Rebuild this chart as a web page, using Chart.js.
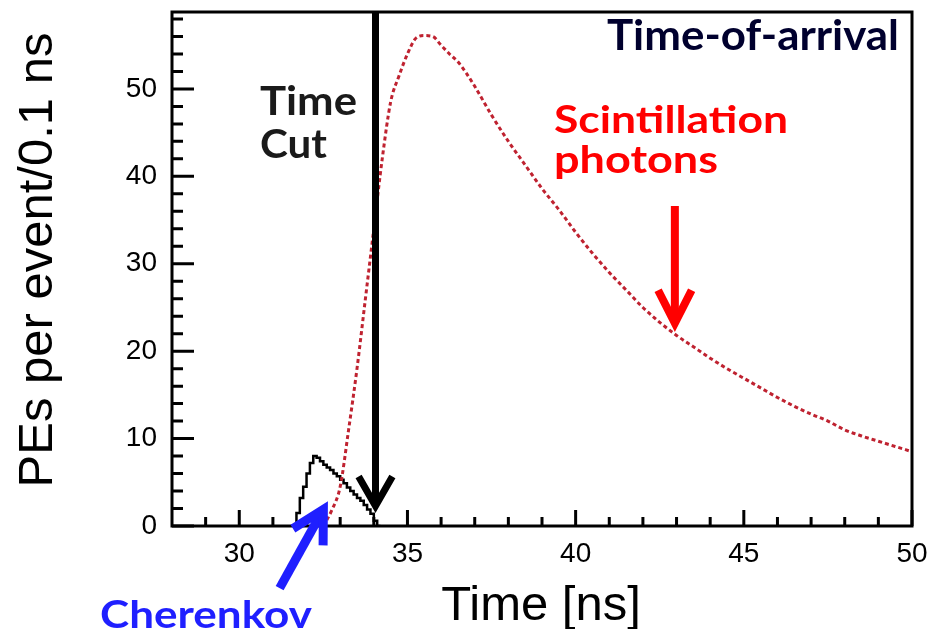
<!DOCTYPE html>
<html>
<head>
<meta charset="utf-8">
<script src="https://cdn.jsdelivr.net/npm/chart.js@4.4.1/dist/chart.umd.min.js"></script>
<style>
  html, body { margin: 0; padding: 0; background: #fff; }
  #wrap { width: 929px; height: 629px; position: relative; }
</style>
</head>
<body>
<div id="wrap"><canvas id="arrivalChart" width="929" height="629"></canvas></div>
<script>
// Scintillation photons (red dotted curve)
var scintTime = [32.5, 32.75, 33.0, 33.25, 33.5, 33.75, 34.0, 34.25, 34.5, 34.75,
                 35.0, 35.25, 35.5, 35.75, 36.0, 36.25, 36.5, 36.75, 37.0, 37.5,
                 38.0, 38.5, 39.0, 39.5, 40.0, 40.5, 41.0, 41.5, 42.0, 42.5,
                 43.0, 43.5, 44.0, 44.5, 45.0, 45.5, 46.0, 46.5, 47.0, 47.5,
                 48.0, 48.5, 49.0, 49.5, 50.0];
var scintPEs = [0, 1.8, 4.5, 11, 18, 26, 34, 42, 48.5, 51.5,
                54, 55.8, 56.1, 56, 55, 54, 53.1, 51.8, 50.3, 47,
                44, 41.3, 38.6, 36.2, 33.6, 31.2, 29, 27, 25, 23.3,
                21.8, 20.5, 19.2, 18, 16.9, 15.8, 14.7, 13.7, 12.8, 12,
                11, 10.3, 9.7, 9.1, 8.5];

// Cherenkov photons (black histogram, 0.1 ns bins, lower edges)
var cherTime = [31.7, 31.8, 31.9, 32.0, 32.1, 32.2, 32.3, 32.4, 32.5, 32.6,
                32.7, 32.8, 32.9, 33.0, 33.1, 33.2, 33.3, 33.4, 33.5, 33.6,
                33.7, 33.8, 33.9, 34.0, 34.1, 34.2];
var cherPEs = [0, 1.5, 3.2, 4.5, 6.0, 7.2, 8.0, 7.8, 7.4, 7.0,
               6.7, 6.4, 6.0, 5.7, 5.3, 4.9, 4.4, 4.0, 3.6, 3.2,
               2.9, 2.4, 1.9, 1.4, 0.6, 0];

// axes
var xMajorTicks = [30, 35, 40, 45, 50];
var xMinorTicks = [29, 31, 32, 33, 34, 36, 37, 38, 39, 41, 42, 43, 44, 46, 47, 48, 49];
var yMajorTicks = [0, 10, 20, 30, 40, 50];
var yMinorTicks = [2, 4, 6, 8, 12, 14, 16, 18, 22, 24, 26, 28, 32, 34, 36, 38, 42, 44, 46, 48, 52, 54, 56, 58];
var timeCut = 34.05;

function toPoints(xs, ys) {
    return xs.map(function (x, i) { return { x: x, y: ys[i] }; });
}

// draws a thick line with an open (chevron) head
function drawArrow(ctx, x1, y1, x2, y2, headLen, headAngle, width, color) {
    var ang = Math.atan2(y2 - y1, x2 - x1);
    ctx.save();
    ctx.strokeStyle = color;
    ctx.lineWidth = width;
    ctx.lineCap = 'butt';
    ctx.lineJoin = 'miter';
    ctx.beginPath();
    ctx.moveTo(x1, y1);
    ctx.lineTo(x2 - Math.cos(ang) * 3, y2 - Math.sin(ang) * 3);
    ctx.stroke();
    ctx.beginPath();
    ctx.moveTo(x2 - headLen * Math.cos(ang - headAngle), y2 - headLen * Math.sin(ang - headAngle));
    ctx.lineTo(x2, y2);
    ctx.lineTo(x2 - headLen * Math.cos(ang + headAngle), y2 - headLen * Math.sin(ang + headAngle));
    ctx.stroke();
    ctx.restore();
}

// bold label, squeezed or stretched sideways to the width it has in the picture
function drawNote(ctx, text, x, y, size, width, color, align) {
    ctx.save();
    ctx.font = 'bold ' + size + 'px Lato, "Open Sans", sans-serif';
    ctx.fillStyle = color;
    ctx.textAlign = 'left';
    ctx.textBaseline = 'alphabetic';
    var k = width / ctx.measureText(text).width;
    var left = align === 'right' ? x - width : x;
    ctx.translate(left, y);
    ctx.scale(k, 1);
    ctx.fillText(text, 0, 0);
    ctx.restore();
}

var framePlugin = {
    id: 'frameAndNotes',
    afterDatasetsDraw: function (chart) {
        var ctx = chart.ctx;
        var a = chart.chartArea;
        var xs = chart.scales.x, ys = chart.scales.y;

        ctx.save();
        // frame
        ctx.strokeStyle = '#000';
        ctx.lineWidth = 3;
        ctx.strokeRect(a.left, a.top, a.right - a.left, a.bottom - a.top);

        // inward ticks
        ctx.beginPath();
        xMajorTicks.forEach(function (v) {
            var px = xs.getPixelForValue(v);
            ctx.moveTo(px, a.bottom); ctx.lineTo(px, a.bottom - 16);
        });
        xMinorTicks.forEach(function (v) {
            var px = xs.getPixelForValue(v);
            ctx.moveTo(px, a.bottom); ctx.lineTo(px, a.bottom - 9);
        });
        yMajorTicks.forEach(function (v) {
            var py = ys.getPixelForValue(v);
            ctx.moveTo(a.left, py); ctx.lineTo(a.left + 22, py);
        });
        yMinorTicks.forEach(function (v) {
            var py = ys.getPixelForValue(v);
            ctx.moveTo(a.left, py); ctx.lineTo(a.left + 11, py);
        });
        ctx.stroke();

        // axis titles
        ctx.fillStyle = '#000';
        ctx.font = '49px "Liberation Sans", Arial, sans-serif';
        ctx.textAlign = 'center';
        ctx.textBaseline = 'alphabetic';
        ctx.fillText('Time [ns]', 541, 620);

        ctx.save();
        ctx.translate(52, 260);
        ctx.rotate(-Math.PI / 2);
        ctx.font = '49px "Liberation Sans", Arial, sans-serif';
        ctx.fillText('PEs per event/0.1 ns', 0, 0);
        ctx.restore();

        // time cut arrow
        var cutX = xs.getPixelForValue(timeCut);
        drawArrow(ctx, cutX, a.top, cutX, ys.getPixelForValue(2.3), 34, 0.52, 7, '#000');

        // scintillation arrow
        drawArrow(ctx, xs.getPixelForValue(42.95), ys.getPixelForValue(36.6),
                  xs.getPixelForValue(42.95), ys.getPixelForValue(23.2), 37, 0.47, 8, '#ff0000');

        // cherenkov arrow
        drawArrow(ctx, xs.getPixelForValue(31.2), ys.getPixelForValue(-7.1),
                  xs.getPixelForValue(32.5), ys.getPixelForValue(1.9), 36, 0.5, 9, '#1f1fff');

        // labels
        drawNote(ctx, 'Time', 260, 115, 40, 97, '#1a1a1a');
        drawNote(ctx, 'Cut', 260, 158, 40, 67, '#1a1a1a');
        drawNote(ctx, 'Scintillation', 554, 133, 38, 234, '#ff0000');
        drawNote(ctx, 'photons', 554, 173, 38, 164, '#ff0000');
        drawNote(ctx, 'Cherenkov', 100, 628, 38, 212, '#1f1fff');
        drawNote(ctx, 'Time-of-arrival', 899, 50, 42, 292, '#00002e', 'right');
        ctx.restore();
    }
};

var ctx = document.getElementById('arrivalChart').getContext('2d');
new Chart(ctx, {
    type: 'line',
    data: {
        datasets: [{
            label: 'Scintillation photons',
            data: toPoints(scintTime, scintPEs),
            borderColor: '#bf2230',
            borderWidth: 3,
            borderDash: [4, 3],
            pointRadius: 0,
            fill: false,
            cubicInterpolationMode: 'monotone'
        }, {
            label: 'Cherenkov photons',
            data: toPoints(cherTime, cherPEs),
            borderColor: '#000',
            borderWidth: 2.5,
            pointRadius: 0,
            fill: false,
            stepped: 'after'
        }]
    },
    options: {
        responsive: false,
        animation: false,
        layout: { padding: { left: 0, top: 12, right: 17, bottom: 0 } },
        plugins: {
            legend: { display: false },
            tooltip: { enabled: false }
        },
        scales: {
            x: {
                type: 'linear',
                min: 28,
                max: 50,
                grid: { display: false, drawTicks: false },
                border: { display: false },
                afterBuildTicks: function (scale) {
                    scale.ticks = xMajorTicks.map(function (v) { return { value: v }; });
                },
                afterFit: function (scale) {
                    scale.height = 103;
                    scale.paddingLeft = 0;
                    scale.paddingRight = 0;
                },
                ticks: {
                    color: '#000',
                    padding: 11,
                    maxRotation: 0,
                    font: { family: '"Liberation Sans", Arial, sans-serif', size: 28 }
                }
            },
            y: {
                type: 'linear',
                min: 0,
                max: 58.8,
                grid: { display: false, drawTicks: false },
                border: { display: false },
                afterBuildTicks: function (scale) {
                    scale.ticks = yMajorTicks.map(function (v) { return { value: v }; });
                },
                afterFit: function (scale) {
                    scale.width = 172;
                    scale.paddingTop = 0;
                    scale.paddingBottom = 0;
                },
                ticks: {
                    color: '#000',
                    padding: 15,
                    font: { family: '"Liberation Sans", Arial, sans-serif', size: 28 }
                }
            }
        }
    },
    plugins: [framePlugin]
});
</script>
</body>
</html>
